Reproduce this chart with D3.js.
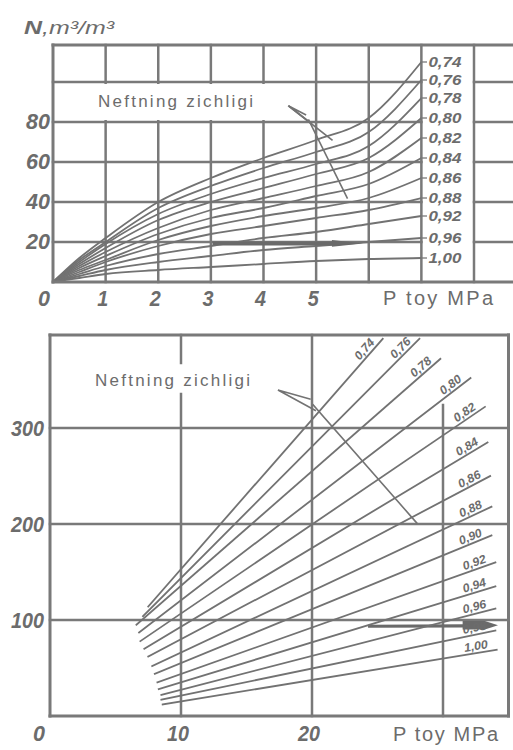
<!DOCTYPE html>
<html>
<head>
<meta charset="utf-8">
<script src="https://cdn.jsdelivr.net/npm/d3@7"></script>
<style>
  html, body { margin: 0; padding: 0; background: #fff; }
  svg { display: block; }
  text { font-family: "Liberation Sans", Arial, sans-serif; fill: #6c6c6c; }
</style>
</head>
<body>
<svg id="chart" width="513" height="750"></svg>
<script>
// Upper nomogram: gas factor N (m3/m3) against saturation pressure P (0..7 MPa)
const densityTop = ["0,74", "0,76", "0,78", "0,80", "0,82", "0,84", "0,86", "0,88", "0,92", "0,96", "1,00"];
const pressureTop = [0, 0.5, 1, 2, 3, 4, 5, 6, 7];
const gasTop = [
  [0, 12, 22, 40, 52, 62, 71, 82, 110],
  [0, 11, 20, 37, 48, 57, 65, 75, 101],
  [0, 10, 19, 34, 44, 52, 59, 68, 92],
  [0, 9, 17, 31, 40, 47, 54, 62, 82],
  [0, 8, 15, 27, 36, 42, 48, 55, 72],
  [0, 7, 13, 24, 32, 37, 43, 49, 62],
  [0, 6, 11, 21, 28, 33, 37, 42, 52],
  [0, 5, 10, 18, 24, 28, 32, 36, 42],
  [0, 4, 8, 14, 18, 22, 25, 29, 33],
  [0, 3, 6, 10, 13, 16, 18, 20, 22],
  [0, 2, 4, 6, 7.5, 9, 10.5, 11.5, 12]
];
const tickTopX = [1, 2, 3, 4, 5];
const tickTopY = [20, 40, 60, 80];
const gridTopX = [1, 2, 3, 4, 5, 6, 7, 8];
const gridTopY = [20, 40, 60, 80, 100];

// Lower nomogram: straight rays for higher pressures (P up to ~34 MPa)
const densityBottom = ["0,74", "0,76", "0,78", "0,80", "0,82", "0,84", "0,86", "0,88", "0,90", "0,92", "0,94", "0,96", "0,98", "1,00"];
const rayStartP = [7.5, 7.1, 6.6, 6.8, 6.9, 7.2, 7.5, 7.8, 8.0, 8.2, 8.3, 8.5, 8.5, 8.6];
const rayStartN = [114, 104, 95, 87, 78, 70, 62, 52, 44, 35, 28, 22, 17, 12];
const rayEndP = [25.4, 28.2, 29.8, 32.1, 33.2, 33.4, 33.6, 33.7, 33.7, 34.0, 34.0, 34.0, 34.0, 34.1];
const rayEndN = [393, 393, 372, 352, 322, 285, 250, 218, 188, 160, 135, 112, 89, 69];
const tickBottomX = [10, 20];
const tickBottomY = [100, 200, 300];
const gridBottomX = [10, 20, 30];
const gridBottomY = [100, 200, 300];

const ink = "#797979";
const svg = d3.select("#chart");
svg.append("rect").attr("width", 513).attr("height", 750).attr("fill", "#fff");

function seg(g, x1, y1, x2, y2, w, col) {
  g.append("line").attr("x1", x1).attr("y1", y1).attr("x2", x2).attr("y2", y2)
    .attr("stroke", col || ink).attr("stroke-width", w).attr("stroke-linecap", "square");
}
function label(g, txt, x, y, opts) {
  const t = g.append("text").attr("x", x).attr("y", y).text(txt)
    .attr("font-size", opts.size).attr("text-anchor", opts.anchor || "middle");
  if (opts.italic) t.attr("font-style", "italic");
  if (opts.bold) t.attr("font-weight", "bold");
  if (opts.len) t.attr("textLength", opts.len).attr("lengthAdjust", opts.adjust || "spacingAndGlyphs");
  return t;
}

/* ---------------- upper panel ---------------- */
const xT = d3.scaleLinear().domain([0, 8]).range([53, 474]);
const yT = d3.scaleLinear().domain([0, 100]).range([282, 82]);
const topEdge = 45, rightEdge = 513;
const gTop = svg.append("g");

gridTopX.forEach(p => seg(gTop, xT(p), topEdge, xT(p), yT(0), 2.5));
gridTopY.forEach(n => {
  seg(gTop, xT(0), yT(n), xT(7), yT(n), 2.5);
  seg(gTop, xT(8), yT(n), rightEdge, yT(n), 2.5);
});
// blank band holding the caption
gTop.append("rect").attr("x", xT(0) + 2).attr("y", yT(100) + 2)
  .attr("width", xT(4.05) - xT(0) - 2).attr("height", yT(80) - yT(100) - 4).attr("fill", "#fff");
label(gTop, "Neftning zichligi", 98, 107, { size: 17, anchor: "start", len: 155, adjust: "spacing" });

const lineTop = d3.line().x((d, i) => xT(pressureTop[i])).y(d => yT(d)).curve(d3.curveMonotoneX);
gTop.selectAll("path.curve").data(gasTop).join("path").attr("class", "curve")
  .attr("d", lineTop).attr("fill", "none").attr("stroke", "#727272").attr("stroke-width", 1.8);

// density labels in the side column
densityTop.forEach((d, i) => {
  const n = gasTop[i][gasTop[i].length - 1];
  seg(gTop, xT(7), yT(n), xT(7) + 5, yT(n), 1.3);
  label(gTop, d, xT(7) + 7, yT(n) + 5, { size: 14, anchor: "start", italic: true, bold: true, len: 33 });
});

// reading arrow along N = 19.3
seg(gTop, xT(3.07), yT(19.3), xT(5.36), yT(19.3), 4, "#6a6a6a");
gTop.append("path").attr("fill", "#6a6a6a")
  .attr("d", `M${xT(5.3)},${yT(21)} L${xT(5.89)},${yT(19.3)} L${xT(5.3)},${yT(17.6)} Z`);

// pointer from the caption to the density curves
gTop.append("path").attr("fill", "none").attr("stroke", "#737373").attr("stroke-width", 1.6)
  .attr("d", `M${xT(4.81)},${yT(83.5)} L${xT(4.48)},${yT(88)} L${xT(4.92)},${yT(79)}`);
seg(gTop, xT(4.86), yT(81), xT(5.59), yT(42), 1.6, "#737373");
seg(gTop, xT(4.48), yT(88), xT(5.3), yT(71), 1.6, "#737373");

// frame
seg(gTop, xT(0), topEdge, xT(0), yT(0), 3);
seg(gTop, xT(0), topEdge, rightEdge, topEdge, 3);
seg(gTop, xT(0), yT(0), rightEdge, yT(0), 3);

// ticks and titles
tickTopY.forEach(n => label(gTop, String(n), 50, yT(n) + 7, { size: 22, anchor: "end", italic: true, bold: true, len: 24 }));
label(gTop, "0", 50, 306, { size: 22, anchor: "end", italic: true, bold: true, len: 12 });
tickTopX.forEach(p => label(gTop, String(p), xT(p) - 3, 306, { size: 22, italic: true, bold: true, len: 11 }));
label(gTop, "P toy MPa", 383, 305, { size: 20, anchor: "start", len: 110, adjust: "spacing" });
const title = gTop.append("text").attr("x", 24).attr("y", 34).attr("font-size", 18)
  .attr("font-style", "italic").attr("textLength", 90).attr("lengthAdjust", "spacingAndGlyphs");
title.append("tspan").attr("font-weight", "bold").text("N");
title.append("tspan").text(",m³/m³");

/* ---------------- lower panel ---------------- */
const xB = d3.scaleLinear().domain([0, 35]).range([50, 508.5]);
const yB = d3.scaleLinear().domain([0, 300]).range([716, 428]);
const topB = 335;
const gBot = svg.append("g");

gridBottomY.forEach(n => seg(gBot, xB(0), yB(n), xB(35), yB(n), 2.5));
// P = 10: split around the caption
seg(gBot, xB(10), topB, xB(10), 363, 2.5);
seg(gBot, xB(10), 394, xB(10), yB(0), 2.5);
seg(gBot, xB(20), topB, xB(20), yB(0), 2.5);
seg(gBot, xB(30), yB(324), xB(30), yB(0), 2.5);
label(gBot, "Neftning zichligi", 95, 386, { size: 17, anchor: "start", len: 155, adjust: "spacing" });

// thick reading arrow near N = 94
seg(gBot, xB(24.4), yB(93.5), xB(31.5), yB(93.8), 3.2, "#6a6a6a");
gBot.append("path").attr("fill", "#6a6a6a")
  .attr("d", `M${xB(31.5)},${yB(99)} L${xB(33.2)},${yB(99)} L${xB(34.2)},${yB(94.5)} L${xB(33.2)},${yB(90)} L${xB(31.5)},${yB(90)} Z`);

// density rays
densityBottom.forEach((d, i) => {
  const x1 = xB(rayStartP[i]), y1 = yB(rayStartN[i]);
  const x2 = xB(rayEndP[i]), y2 = yB(rayEndN[i]);
  seg(gBot, x1, y1, x2, y2, 1.8, "#727272");
  const ang = Math.atan2(y2 - y1, x2 - x1);
  const px = x2 - 8 * Math.cos(ang), py = y2 - 8 * Math.sin(ang);
  gBot.append("text").attr("transform", `translate(${px},${py}) rotate(${ang * 180 / Math.PI})`)
    .attr("x", 0).attr("y", -3).attr("text-anchor", "end")
    .attr("font-size", 12).attr("font-style", "italic").attr("font-weight", "bold")
    .attr("textLength", 24).attr("lengthAdjust", "spacingAndGlyphs").text(d);
});

// pointer from the caption to the rays
gBot.append("path").attr("fill", "none").attr("stroke", "#737373").attr("stroke-width", 1.6)
  .attr("d", `M${xB(19.9)},${yB(330)} L${xB(17.4)},${yB(339.6)} L${xB(20.3)},${yB(318)}`);
seg(gBot, xB(20.1), yB(324), xB(28.0), yB(201), 1.6, "#737373");

// frame
seg(gBot, xB(0), topB, xB(0), yB(0), 3);
seg(gBot, xB(0), topB, xB(35), topB, 3);
seg(gBot, xB(35), topB, xB(35), yB(0), 3);
seg(gBot, xB(0), yB(0), xB(35), yB(0), 3);

// ticks and title
tickBottomY.forEach(n => label(gBot, String(n), 44, yB(n) + 8, { size: 22, anchor: "end", italic: true, bold: true, len: 33 }));
label(gBot, "0", 45, 741, { size: 22, anchor: "end", italic: true, bold: true, len: 12 });
tickBottomX.forEach(p => label(gBot, String(p), xB(p) - 3, 741, { size: 22, italic: true, bold: true, len: 22 }));
label(gBot, "P toy MPa", 393, 741, { size: 20, anchor: "start", len: 105, adjust: "spacing" });
</script>
</body>
</html>
